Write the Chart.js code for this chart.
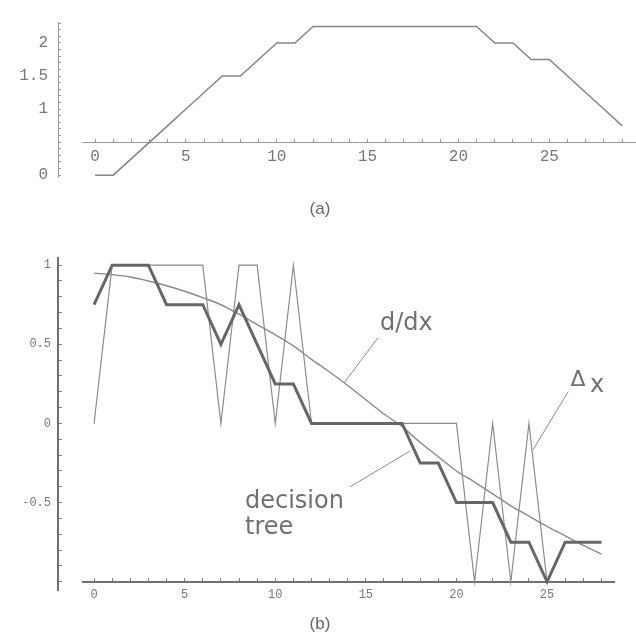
<!DOCTYPE html>
<html>
<head>
<meta charset="utf-8">
<script src="https://cdn.jsdelivr.net/npm/chart.js@4.4.1/dist/chart.umd.min.js"></script>
<style>
  body { margin: 0; background: #fff; }
  #wrap { position: relative; width: 636px; height: 641px; }
  canvas { position: absolute; left: 0; }
  #chartA { top: 0; }
  #chartB { top: 240px; }
  .cap { position: absolute; left: 290px; width: 60px; text-align: center; font: 17px "Liberation Sans", sans-serif; color: #666; }
</style>
</head>
<body>
<div id="wrap">
  <canvas id="chartA" width="636" height="200"></canvas>
  <div class="cap" style="top:199px">(a)</div>
  <canvas id="chartB" width="636" height="380"></canvas>
  <div class="cap" style="top:614px">(b)</div>
</div>
<script>
// (a) the function
const xA = [0, 1, 2, 3, 4, 5, 6, 7, 8, 9, 10, 11, 12, 13, 14, 15, 16, 17, 18, 19, 20, 21, 22, 23, 24, 25, 26, 27, 28, 29];
const fA = [0, 0, 0.25, 0.5, 0.75, 1, 1.25, 1.5, 1.5, 1.75, 2, 2, 2.25, 2.25, 2.25, 2.25, 2.25, 2.25, 2.25, 2.25, 2.25, 2.25, 2, 2, 1.75, 1.75, 1.5, 1.25, 1, 0.75];
const xTicksA = [0, 5, 10, 15, 20, 25];
const yTicksA = [0, 1, 1.5, 2];

// (b) derivative estimates
const xB = [0, 1, 2, 3, 4, 5, 6, 7, 8, 9, 10, 11, 12, 13, 14, 15, 16, 17, 18, 19, 20, 21, 22, 23, 24, 25, 26, 27, 28];
const deltaX = [0, 1, 1, 1, 1, 1, 1, 0, 1, 1, 0, 1, 0, 0, 0, 0, 0, 0, 0, 0, 0, -1, 0, -1, 0, -1, -0.75, -0.75, -0.75];
const dDx = [0.95, 0.94, 0.925, 0.9, 0.87, 0.835, 0.795, 0.75, 0.69, 0.625, 0.56, 0.49, 0.405, 0.325, 0.24, 0.15, 0.06, -0.02, -0.12, -0.21, -0.3, -0.37, -0.445, -0.52, -0.585, -0.65, -0.71, -0.77, -0.825];
const tree = [0.75, 1, 1, 1, 0.75, 0.75, 0.75, 0.5, 0.75, 0.5, 0.25, 0.25, 0, 0, 0, 0, 0, 0, -0.25, -0.25, -0.5, -0.5, -0.5, -0.75, -0.75, -1, -0.75, -0.75, -0.75];
const xTicksB = [0, 5, 10, 15, 20, 25];
const yTicksB = [-0.5, 0, 0.5, 1];

Chart.defaults.font.family = '"Liberation Mono", monospace';

const pts = (xs, ys) => xs.map((x, i) => ({ x: x, y: ys[i] }));
const range = (a, b, step) => {
  const out = [];
  for (let v = a; v <= b + 1e-9; v += step) out.push(Math.round(v * 10) / 10);
  return out;
};

// the x axis line starts a little left of 0, not at the y axis, so draw it by hand
const xAxisLine = {
  id: 'xAxisLine',
  beforeDatasetsDraw(chart, args, opts) {
    const { ctx, chartArea, scales } = chart;
    const py = Math.round(scales.y.getPixelForValue(opts.at)) + (opts.width % 2 ? 0.5 : 0);
    ctx.save();
    ctx.strokeStyle = opts.color;
    ctx.lineWidth = opts.width;
    ctx.beginPath();
    ctx.moveTo(scales.x.getPixelForValue(opts.from), py);
    ctx.lineTo(chartArea.right, py);
    ctx.stroke();
    ctx.restore();
  }
};

// labels with leader lines in (b)
const notes = {
  id: 'notes',
  afterDatasetsDraw(chart) {
    const { ctx, scales } = chart;
    const px = v => scales.x.getPixelForValue(v);
    const py = v => scales.y.getPixelForValue(v);
    ctx.save();
    ctx.strokeStyle = '#8c8c8c';
    ctx.lineWidth = 1;
    [[15.67, 0.541, 13.8, 0.256], [26.16, 0.2, 24.23, -0.166], [17.44, -0.174, 14.13, -0.40]].forEach(l => {
      ctx.beginPath();
      ctx.moveTo(px(l[0]), py(l[1]));
      ctx.lineTo(px(l[2]), py(l[3]));
      ctx.stroke();
    });
    ctx.fillStyle = '#707070';
    ctx.textBaseline = 'alphabetic';
    ctx.font = '24px "DejaVu Sans"';
    ctx.fillText('d/dx', px(15.78), py(0.591));
    ctx.fillText('decision', px(8.33), py(-0.535));
    ctx.fillText('tree', px(8.33), py(-0.70));
    ctx.font = '22px "DejaVu Sans"';
    ctx.fillText('Δ', px(26.3), py(0.237));
    ctx.font = '24px "DejaVu Sans"';
    ctx.fillText('x', px(27.37), py(0.198));
    ctx.restore();
  }
};

new Chart(document.getElementById('chartA'), {
  type: 'line',
  data: {
    datasets: [{
      data: pts(xA, fA),
      borderColor: '#858585',
      borderWidth: 1.5,
      pointRadius: 0,
      tension: 0
    }]
  },
  options: {
    responsive: false,
    animation: false,
    layout: { padding: { top: 7, bottom: 22, left: 0, right: 0 } },
    plugins: {
      legend: { display: false },
      tooltip: { enabled: false },
      xAxisLine: { at: 0.5, from: -0.7, color: '#9a9a9a', width: 1 }
    },
    scales: {
      x: {
        type: 'linear', min: -2.04, max: 29.77, bounds: 'data',
        position: { y: 0.5 },
        border: { display: false },
        grid: { drawOnChartArea: false, tickLength: -3, tickColor: '#9a9a9a' },
        afterBuildTicks: s => { s.ticks = range(0, 29, 1).map(v => ({ value: v })); },
        afterFit: s => { s.height = 0; },
        ticks: {
          autoSkip: false, maxRotation: 0, padding: 8, color: '#777', font: { size: 16 },
          callback: v => xTicksA.includes(v) ? String(v) : ''
        }
      },
      y: {
        type: 'linear', min: -0.034, max: 2.308, bounds: 'data',
        position: 'left',
        border: { color: '#9a9a9a', width: 1 },
        grid: { drawOnChartArea: false, tickLength: -3, tickColor: '#9a9a9a' },
        afterBuildTicks: s => { s.ticks = range(0, 2.3, 0.1).map(v => ({ value: v })); },
        afterFit: s => { s.width = 58; },
        ticks: {
          autoSkip: false, padding: 13, color: '#777', font: { size: 16 },
          callback: v => yTicksA.includes(v) ? String(v) : ''
        }
      }
    }
  },
  plugins: [xAxisLine]
});

new Chart(document.getElementById('chartB'), {
  type: 'line',
  data: {
    datasets: [
      { label: 'decision tree', data: pts(xB, tree), borderColor: '#666', borderWidth: 3, pointRadius: 0, tension: 0, order: 0 },
      { label: 'd/dx', data: pts(xB, dDx), borderColor: '#8a8a8a', borderWidth: 1.4, pointRadius: 0, cubicInterpolationMode: 'monotone', order: 1 },
      { label: 'Δx', data: pts(xB, deltaX), borderColor: '#8c8c8c', borderWidth: 1.2, pointRadius: 0, tension: 0, order: 2 }
    ]
  },
  options: {
    responsive: false,
    animation: false,
    layout: { padding: { top: 12, bottom: 30, left: 0, right: 21 } },
    plugins: {
      legend: { display: false },
      tooltip: { enabled: false },
      xAxisLine: { at: -1, from: -0.66, color: '#707070', width: 2 }
    },
    scales: {
      x: {
        type: 'linear', min: -1.99, max: 28.75, bounds: 'data',
        position: { y: -1 },
        border: { display: false },
        grid: { drawOnChartArea: false, tickLength: -4, tickColor: '#808080' },
        afterBuildTicks: s => { s.ticks = range(0, 28, 1).map(v => ({ value: v })); },
        afterFit: s => { s.height = 0; },
        ticks: {
          autoSkip: false, maxRotation: 0, padding: 10, color: '#777', font: { size: 12 },
          callback: v => xTicksB.includes(v) ? String(v) : ''
        }
      },
      y: {
        type: 'linear', min: -1.052, max: 1.044, bounds: 'data',
        position: 'left',
        border: { color: '#707070', width: 2 },
        grid: { drawOnChartArea: false, tickLength: -4, tickColor: '#808080' },
        afterBuildTicks: s => { s.ticks = range(-1, 1, 0.1).map(v => ({ value: v })); },
        afterFit: s => { s.width = 58; },
        ticks: {
          autoSkip: false, padding: 11, color: '#777', font: { size: 12 },
          callback: v => yTicksB.includes(v) ? String(v) : ''
        }
      }
    }
  },
  plugins: [xAxisLine, notes]
});
</script>
</body>
</html>
